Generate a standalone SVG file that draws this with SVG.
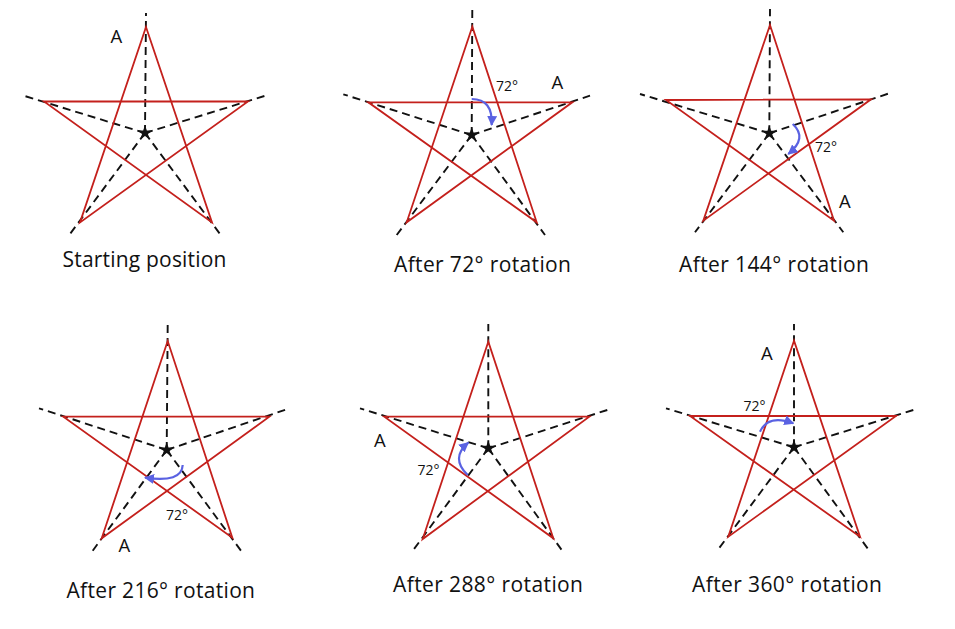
<svg xmlns="http://www.w3.org/2000/svg" width="955" height="629" viewBox="0 0 955 629">
<style>
.bg{fill:#ffffff}
.star{fill:none;stroke:#c4201c;stroke-width:1.8;stroke-linejoin:miter}
.dash{fill:none;stroke:#111;stroke-width:1.9;stroke-dasharray:8 5}
.ctr{fill:#111}
.arr{fill:none;stroke:#5a62e2;stroke-width:2.2}
.cap{font-family:"Open Sans","Liberation Sans",sans-serif;font-size:21px;fill:#111}
.lblA{font-family:"Open Sans","Liberation Sans",sans-serif;font-size:18.5px;fill:#111}
.deg{font-family:"Open Sans","Liberation Sans",sans-serif;font-size:14px;fill:#111}
</style>
<defs>
<path id="cstar" d="M0,-8 L1.82,-2.5 L7.61,-2.47 L2.94,0.95 L4.7,6.47 L0,3.1 L-4.7,6.47 L-2.94,0.95 L-7.61,-2.47 L-1.82,-2.5 Z"/>
<marker id="ah" viewBox="0 0 10 10" refX="9" refY="5" markerWidth="10" markerHeight="10" markerUnits="userSpaceOnUse" orient="auto">
<path d="M0,0 L10,5 L0,10 Z" fill="#5a62e2"/>
</marker>
</defs>
<rect class="bg" x="0" y="0" width="955" height="629"/>

<g id="panel1">
<g class="dash">
<line x1="145" y1="133" x2="146" y2="13"/>
<line x1="145" y1="133" x2="23" y2="95.5"/>
<line x1="145" y1="133" x2="266" y2="95.5"/>
<line x1="145" y1="133" x2="70" y2="234"/>
<line x1="145" y1="133" x2="220" y2="234"/>
</g>
<polygon class="star" points="146,27 80,222.5 248,101.5 44,101.5 212,222.5"/>
<use href="#cstar" class="ctr" x="145" y="133"/>
<text class="lblA" x="110.5" y="43">A</text>
<text class="cap" x="62.5" y="267" textLength="164" lengthAdjust="spacing">Starting position</text>
</g>

<g id="panel2">
<g class="dash">
<line x1="471.7" y1="135" x2="472.3" y2="9"/>
<line x1="471.7" y1="135" x2="343.3" y2="94.3"/>
<line x1="471.7" y1="135" x2="590" y2="95.7"/>
<line x1="471.7" y1="135" x2="396.7" y2="235"/>
<line x1="471.7" y1="135" x2="545" y2="235"/>
</g>
<polygon class="star" points="472.3,26.7 406.7,222.3 572.3,102.3 368.3,102.3 536.7,222.3"/>
<use href="#cstar" class="ctr" x="471.7" y="135"/>
<text class="deg" x="496" y="90.5">72°</text>
<text class="lblA" x="551.5" y="88.5">A</text>
<text class="cap" x="394" y="271.5" textLength="177" lengthAdjust="spacing">After 72° rotation</text>
</g>

<g id="panel3">
<g class="dash">
<line x1="769.3" y1="133.3" x2="770" y2="9"/>
<line x1="769.3" y1="133.3" x2="640" y2="94"/>
<line x1="769.3" y1="133.3" x2="889.3" y2="93.3"/>
<line x1="769.3" y1="133.3" x2="695" y2="232.3"/>
<line x1="769.3" y1="133.3" x2="843.3" y2="232.3"/>
</g>
<polygon class="star" points="770,25 703.3,220.7 871,99.3 666,100 834,220.7"/>
<use href="#cstar" class="ctr" x="769.3" y="133.3"/>
<text class="deg" x="815" y="151.5">72°</text>
<text class="lblA" x="839" y="207.5">A</text>
<text class="cap" x="679" y="271.5" textLength="190" lengthAdjust="spacing">After 144° rotation</text>
</g>

<g id="panel4">
<g class="dash">
<line x1="166.7" y1="450" x2="167.7" y2="323.3"/>
<line x1="166.7" y1="450" x2="39" y2="408.3"/>
<line x1="166.7" y1="450" x2="286.7" y2="409.3"/>
<line x1="166.7" y1="450" x2="92.7" y2="550.7"/>
<line x1="166.7" y1="450" x2="241" y2="550.7"/>
</g>
<polygon class="star" points="167.7,341 101.7,538.3 269.3,416.7 63.3,416.7 232.3,537.7"/>
<use href="#cstar" class="ctr" x="166.7" y="450"/>
<text class="deg" x="166" y="520">72°</text>
<text class="lblA" x="118.5" y="552">A</text>
<text class="cap" x="66.5" y="598" textLength="188.5" lengthAdjust="spacing">After 216° rotation</text>
</g>

<g id="panel5">
<g class="dash">
<line x1="488.3" y1="448.3" x2="488.3" y2="324"/>
<line x1="488.3" y1="448.3" x2="360" y2="408.3"/>
<line x1="488.3" y1="448.3" x2="607.3" y2="410"/>
<line x1="488.3" y1="448.3" x2="413.3" y2="550"/>
<line x1="488.3" y1="448.3" x2="561.7" y2="550"/>
</g>
<polygon class="star" points="488.3,341.7 422.7,539 589.3,416.7 384.3,416.7 553.3,538.3"/>
<use href="#cstar" class="ctr" x="488.3" y="448.3"/>
<text class="deg" x="417.5" y="475">72°</text>
<text class="lblA" x="374" y="447">A</text>
<text class="cap" x="393" y="592" textLength="190" lengthAdjust="spacing">After 288° rotation</text>
</g>

<g id="panel6">
<g class="dash">
<line x1="794" y1="447.3" x2="794" y2="324"/>
<line x1="794" y1="447.3" x2="666" y2="408.3"/>
<line x1="794" y1="447.3" x2="913.3" y2="410"/>
<line x1="794" y1="447.3" x2="718.3" y2="549.3"/>
<line x1="794" y1="447.3" x2="868.3" y2="549.3"/>
</g>
<polygon class="star" points="794,340.7 728.3,536.7 896,416 690,416 860,536.7"/>
<use href="#cstar" class="ctr" x="794" y="447.3"/>
<text class="deg" x="743.5" y="410.5">72°</text>
<text class="lblA" x="761" y="359.5">A</text>
<text class="cap" x="692" y="592" textLength="190" lengthAdjust="spacing">After 360° rotation</text>
</g>

<g id="connectors">
<path class="arr" marker-end="url(#ah)" d="M471.7,99 Q493,99 491.7,125"/>
<path class="arr" marker-end="url(#ah)" d="M792.7,124 Q808,138 788.3,154"/>
<path class="arr" marker-end="url(#ah)" d="M182.7,465 Q182,483 145,477.7"/>
<path class="arr" marker-end="url(#ah)" d="M467.7,475 Q450,458 468.3,442.7"/>
<path class="arr" marker-end="url(#ah)" d="M760,431.7 Q768,414 793.3,423.3"/>
</g>
</svg>
